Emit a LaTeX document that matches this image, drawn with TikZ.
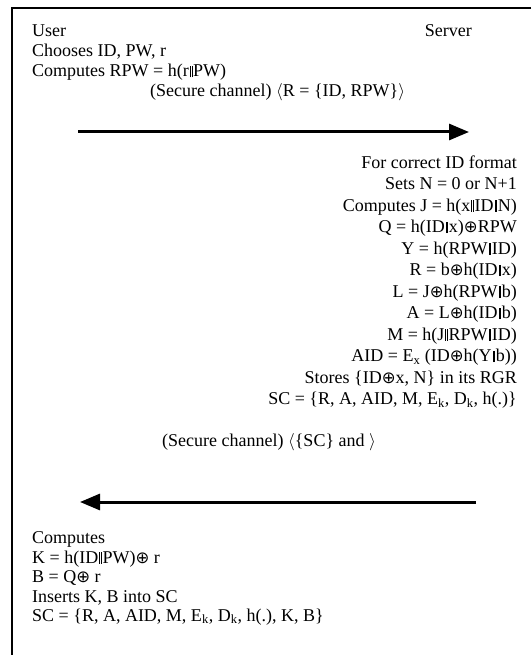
\documentclass[tikz,border=0pt]{standalone}
\usepackage{fontspec}
\setmainfont{Liberation Serif}
\newfontfamily\symfnt{DejaVu Sans}
\usetikzlibrary{arrows.meta}
\newcommand\pp{\kern1pt\rule[-0.5pt]{0.5pt}{11.5pt}\kern1.2pt\rule[-0.5pt]{0.5pt}{11.5pt}\kern1pt}
\newcommand\xo{{\symfnt\fontsize{16.5}{16.5}\selectfont ⊕}}
\newcommand\lang{\ensuremath{\langle}}
\newcommand\rang{\ensuremath{\rangle}}
\newcommand\sbs[1]{\textsubscript{#1}}
\begin{document}
\begin{tikzpicture}[x=1pt,y=-1pt,
  txt/.style={inner sep=0pt,font=\fontsize{18}{20}\selectfont},
  lt/.style={txt,anchor=base west},
  rt/.style={txt,anchor=base east},
  msg/.style={line width=3pt,-{Triangle[length=20pt,width=16pt]}},
  frame/.style={line width=1.4pt}]
\useasboundingbox (0,0) rectangle (531,655);
\draw[frame] (531,8) -- (12,8) -- (12,655);
% user side top
\node[lt] (user) at (32,37) {User};
\node[rt] (server) at (472,37) {Server};
\node[lt] (u1) at (32,57) {Chooses ID, PW, r};
\node[lt] (u2) at (32,77) {Computes RPW = h(r\pp PW)};
\node[lt] (m1) at (150,97) {(Secure channel) \lang R = \{ID, RPW\}\rang};
\coordinate (a1s) at (78,132);
\coordinate (a1e) at (469,132);
\draw[msg] (a1s) -- (a1e);
% server block
\node[rt] (s1) at (517,168) {For correct ID format};
\node[rt] (s2) at (517,189.5) {Sets N = 0 or N+1};
\node[rt] (s3) at (517,211) {Computes J = h(x\pp ID\pp N)};
\node[rt] (s4) at (517,232.5) {Q = h(ID\pp x)\xo RPW};
\node[rt] (s5) at (517,254) {Y = h(RPW\pp ID)};
\node[rt] (s6) at (517,275.5) {R = b\xo h(ID\pp x)};
\node[rt] (s7) at (517,297) {L = J\xo h(RPW\pp b)};
\node[rt] (s8) at (517,318.5) {A = L\xo h(ID\pp b)};
\node[rt] (s9) at (517,340) {M = h(J\pp RPW\pp ID)};
\node[rt] (s10) at (517,361.5) {AID = E\sbs{x} (ID\xo h(Y\pp b))};
\node[rt] (s11) at (517,383) {Stores \{ID\xo x, N\} in its RGR};
\node[rt] (s12) at (517,404.5) {SC = \{R, A, AID, M, E\sbs{k}, D\sbs{k}, h(.)\}};
\node[lt] (m2) at (162,446) {(Secure channel) \lang\{SC\} and \rang};
\coordinate (a2s) at (476,502);
\coordinate (a2e) at (80,502);
\draw[msg] (a2s) -- (a2e);
% user side bottom
\node[lt] (b1) at (32,543) {Computes};
\node[lt] (b2) at (32,563) {K = h(ID\pp PW)\xo\ r};
\node[lt] (b3) at (32,582.5) {B = Q\xo\ r};
\node[lt] (b4) at (32,602) {Inserts K, B into SC};
\node[lt] (b5) at (32,621) {SC = \{R, A, AID, M, E\sbs{k}, D\sbs{k}, h(.), K, B\}};
\end{tikzpicture}
\end{document}
